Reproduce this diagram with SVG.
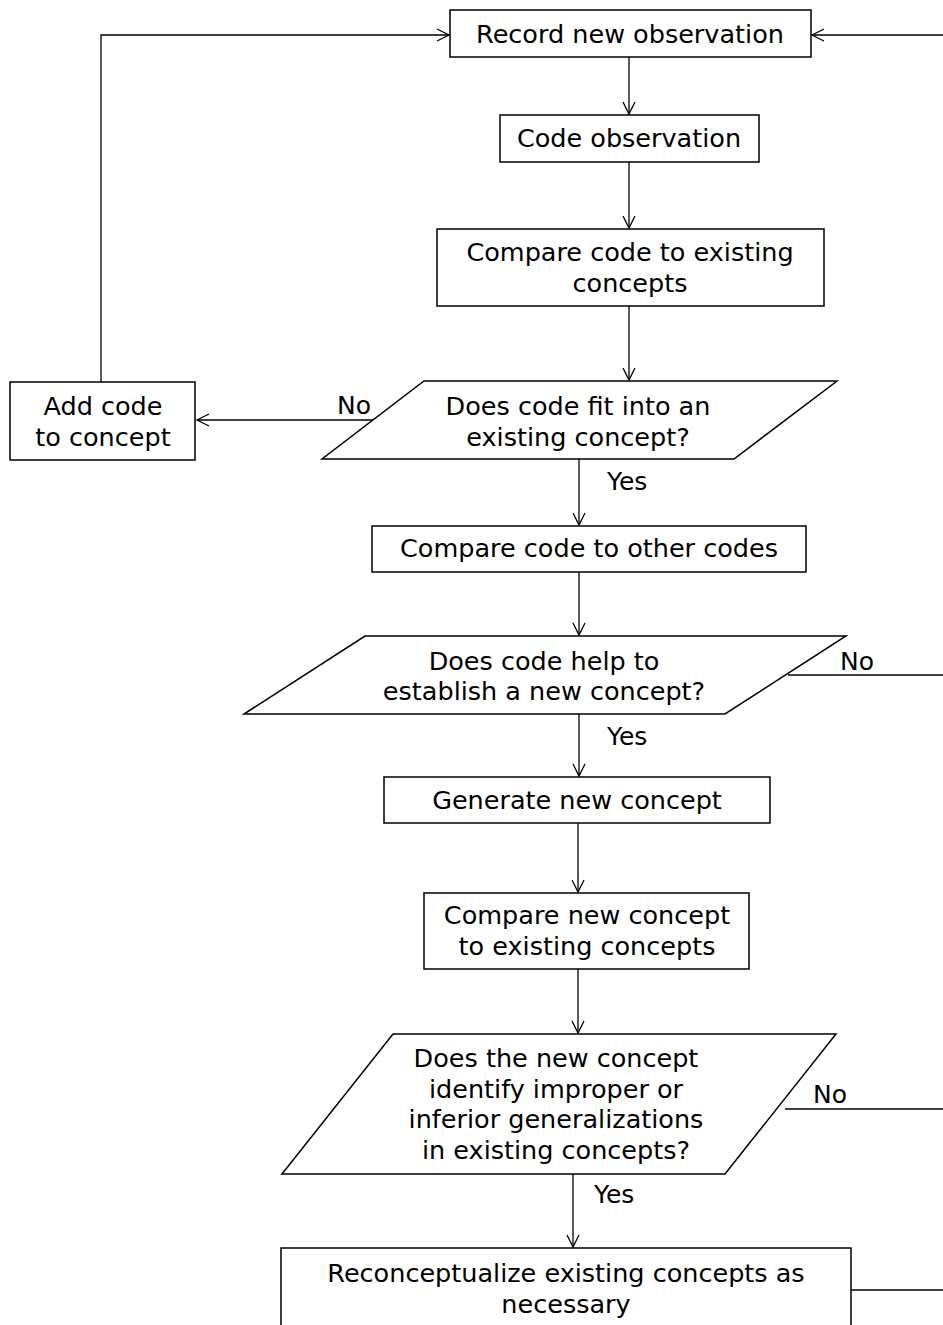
<svg xmlns="http://www.w3.org/2000/svg" width="943" height="1325" viewBox="0 0 943 1325">
<style>
.b{fill:#fff;stroke:#000;stroke-width:1.5}
.t{font-family:"DejaVu Sans",Verdana,sans-serif;font-size:25.5px;fill:#000;text-anchor:middle}
.l{font-family:"DejaVu Sans",Verdana,sans-serif;font-size:25px;fill:#000}
.c{fill:none;stroke:#000;stroke-width:1.3}
</style>
<defs>
<marker id="a" markerWidth="16" markerHeight="16" refX="13" refY="8" orient="auto" markerUnits="userSpaceOnUse">
<path d="M1,2 L13,8 L1,14" fill="none" stroke="#000" stroke-width="1.3"/>
</marker>
</defs>
<rect width="943" height="1325" fill="#fff"/>
<g id="connectors">
<path class="c" d="M629,57 V114" marker-end="url(#a)"/>
<path class="c" d="M629,162 V228" marker-end="url(#a)"/>
<path class="c" d="M629,306 V380" marker-end="url(#a)"/>
<path class="c" d="M373,420 H197" marker-end="url(#a)"/>
<path class="c" d="M101,382 V35 H449" marker-end="url(#a)"/>
<path class="c" d="M943,35 H812" marker-end="url(#a)"/>
<path class="c" d="M579,459 V525" marker-end="url(#a)"/>
<path class="c" d="M579,572 V635" marker-end="url(#a)"/>
<path class="c" d="M788,675 H943"/>
<path class="c" d="M579,714 V776" marker-end="url(#a)"/>
<path class="c" d="M578,823 V892" marker-end="url(#a)"/>
<path class="c" d="M578,969 V1033" marker-end="url(#a)"/>
<path class="c" d="M785,1109 H943"/>
<path class="c" d="M573,1174 V1247" marker-end="url(#a)"/>
<path class="c" d="M851,1290 H943"/>
<text class="l" x="337" y="414">No</text>
<text class="l" x="607" y="490">Yes</text>
<text class="l" x="840" y="670">No</text>
<text class="l" x="607" y="745">Yes</text>
<text class="l" x="813" y="1103">No</text>
<text class="l" x="594" y="1203">Yes</text>
</g>
<g id="n1"><rect class="b" x="450" y="10" width="361" height="47"/><text class="t" x="630" y="43">Record new observation</text></g>
<g id="n2"><rect class="b" x="500" y="115" width="259" height="47"/><text class="t" x="629" y="147">Code observation</text></g>
<g id="n3"><rect class="b" x="437" y="229" width="387" height="77"/><text class="t" x="630" y="261">Compare code to existing</text><text class="t" x="630" y="292">concepts</text></g>
<g id="n4"><polygon class="b" points="424,381 837,381 734,459 322,459"/><text class="t" x="578" y="415">Does code fit into an</text><text class="t" x="578" y="446">existing concept?</text></g>
<g id="n5"><rect class="b" x="10" y="382" width="185" height="78"/><text class="t" x="103" y="415">Add code</text><text class="t" x="103" y="446">to concept</text></g>
<g id="n6"><rect class="b" x="372" y="526" width="434" height="46"/><text class="t" x="589" y="557">Compare code to other codes</text></g>
<g id="n7"><polygon class="b" points="365,636 846,636 725,714 244,714"/><text class="t" x="544" y="670">Does code help to</text><text class="t" x="544" y="700">establish a new concept?</text></g>
<g id="n8"><rect class="b" x="384" y="777" width="386" height="46"/><text class="t" x="577" y="809">Generate new concept</text></g>
<g id="n9"><rect class="b" x="424" y="893" width="325" height="76"/><text class="t" x="587" y="924">Compare new concept</text><text class="t" x="587" y="955">to existing concepts</text></g>
<g id="n10"><polygon class="b" points="393,1034 836,1034 725,1174 282,1174"/><text class="t" x="556" y="1067">Does the new concept</text><text class="t" x="556" y="1098">identify improper or</text><text class="t" x="556" y="1128">inferior generalizations</text><text class="t" x="556" y="1159">in existing concepts?</text></g>
<g id="n11"><rect class="b" x="281" y="1248" width="570" height="90"/><text class="t" x="566" y="1282">Reconceptualize existing concepts as</text><text class="t" x="566" y="1313">necessary</text></g>
</svg>
